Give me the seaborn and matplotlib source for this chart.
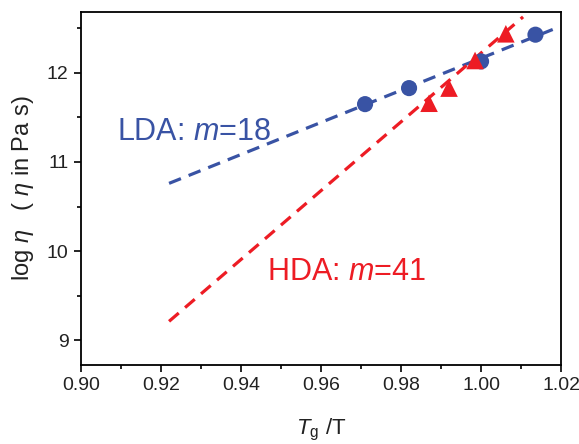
import numpy as np
import pandas as pd
import matplotlib
matplotlib.use("Agg")
import matplotlib.pyplot as plt
from matplotlib.ticker import MultipleLocator
import seaborn as sns

# ─────────────────────────────────────────────
# Données
# ─────────────────────────────────────────────
lda_x = [0.971, 0.982, 1.000, 1.0136]
lda_y = [11.65, 11.83, 12.13, 12.43]
hda_x = [0.987, 0.992, 0.9985, 1.0062]
hda_y = [11.66, 11.83, 12.14, 12.44]

# droites d'ajustement (extrémités)
lda_fit_x = [0.922, 1.018]
lda_fit_y = [10.76, 12.49]
hda_fit_x = [0.922, 1.0105]
hda_fit_y = [9.21, 12.63]

BLUE = "#3953a4"
RED = "#ed1c24"

sns.set_style("ticks")
plt.rcParams["font.family"] = ["Liberation Sans", "DejaVu Sans"]
plt.rcParams["mathtext.fontset"] = "custom"
plt.rcParams["mathtext.it"] = "Liberation Sans:italic"
plt.rcParams["mathtext.rm"] = "Liberation Sans"

fig, ax = plt.subplots(figsize=(5.79, 4.44), dpi=100)
fig.subplots_adjust(left=0.14, right=0.969, top=0.973, bottom=0.178)

lda_fit = pd.DataFrame({"x": lda_fit_x, "y": lda_fit_y})
hda_fit = pd.DataFrame({"x": hda_fit_x, "y": hda_fit_y})
sns.lineplot(data=lda_fit, x="x", y="y", ax=ax, color=BLUE, lw=2.3,
             linestyle=(0, (4, 2.6)), zorder=2)
sns.lineplot(data=hda_fit, x="x", y="y", ax=ax, color=RED, lw=2.3,
             linestyle=(0, (4, 2.6)), zorder=2)

lda = pd.DataFrame({"x": lda_x, "y": lda_y})
hda = pd.DataFrame({"x": hda_x, "y": hda_y})
sns.scatterplot(data=lda, x="x", y="y", ax=ax, color=BLUE, marker="o",
                s=135, edgecolor="none", zorder=3)
sns.scatterplot(data=hda, x="x", y="y", ax=ax, color=RED, marker="^",
                s=160, edgecolor="none", zorder=4)

ax.text(0.9091, 11.34, "LDA: $m$=18", color=BLUE, fontsize=22,
        ha="left", va="center")
ax.text(0.9464, 9.76, "HDA: $m$=41", color=RED, fontsize=22,
        ha="left", va="center")

ax.set_xlim(0.90, 1.02)
ax.set_ylim(8.72, 12.685)
ax.xaxis.set_major_locator(MultipleLocator(0.02))
ax.xaxis.set_minor_locator(MultipleLocator(0.01))
ax.yaxis.set_major_locator(MultipleLocator(1))
ax.yaxis.set_minor_locator(MultipleLocator(0.5))
ax.set_xticklabels([f"{v:.2f}" for v in ax.get_xticks()])
ax.tick_params(which="major", direction="out", length=5, width=1.2,
               labelsize=14, pad=4, color="black", labelcolor="#222222")
ax.tick_params(which="minor", direction="out", length=3, width=1.2,
               color="black")

for sp in ax.spines.values():
    sp.set_visible(True)
    sp.set_linewidth(1.3)
    sp.set_color("black")

ax.set_xlabel(r"$T_\mathrm{g}$ /T", fontsize=16, labelpad=16, color="#222222")
ax.set_ylabel(r"log $\eta$   ( $\eta$ in Pa s)", fontsize=17, labelpad=8,
              color="#222222")

plt.savefig("out.png", dpi=100)
plt.close()
